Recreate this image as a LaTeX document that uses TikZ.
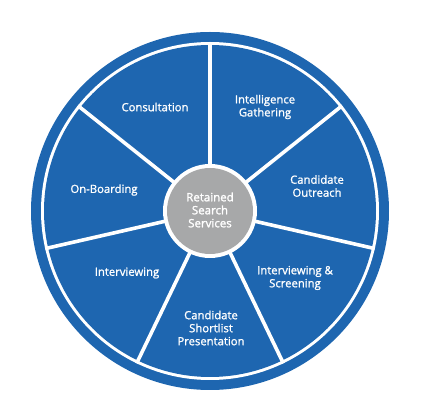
\documentclass[tikz,border=0pt]{standalone}
\usepackage{fontspec}
\setmainfont{Open Sans}
\newfontfamily\semifont[FakeBold=1.2]{Open Sans}
\newfontfamily\hubfont[FakeBold=1.8]{Open Sans}
\definecolor{wheelblue}{RGB}{30,102,176}
\definecolor{hubgray}{RGB}{167,168,169}
\tikzset{
  label/.style={text=white, font=\semifont\fontsize{11.3}{13}\selectfont, align=center, inner sep=0pt},
  hublabel/.style={text=white, font=\hubfont\fontsize{11.5}{13}\selectfont, align=center, inner sep=0pt},
  spoke/.style={white, line width=3.6pt}
}
\begin{document}
\begin{tikzpicture}[x=1pt,y=-1pt]
\useasboundingbox (0,0) rectangle (421,411);
\coordinate (c) at (210,211);
\fill[wheelblue] (c) circle[radius=179];
\fill[white] (c) circle[radius=169];
\fill[wheelblue] (c) circle[radius=166];
\foreach \a in {90,38.571,-12.857,-64.286,-115.714,-167.143,141.429}
  \draw[spoke] (c) -- ++({169*cos(\a)},{-169*sin(\a)});
\fill[white] (c) circle[radius=47];
\fill[hubgray] (c) circle[radius=43];
\node[hublabel] (hub) at (210,210) {Retained\\Search\\Services};
\node[label] (s1) at (155,107) {Consultation};
\node[label] (s2) at (265,107) {Intelligence\\Gathering};
\node[label] (s3) at (317,186) {Candidate\\Outreach};
\node[label] (s4) at (295,278) {Interviewing \&\\Screening};
\node[label] (s5) at (211,328) {Candidate\\Shortlist\\Presentation};
\node[label] (s6) at (127,273) {Interviewing};
\node[label] (s7) at (104,190) {On-Boarding};
\end{tikzpicture}
\end{document}
